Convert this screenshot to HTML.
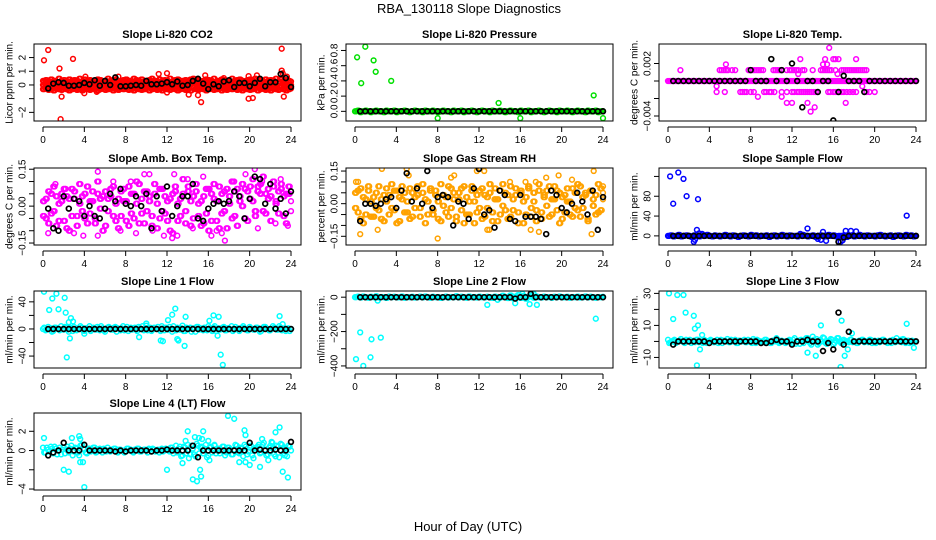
<!DOCTYPE html>
<html><head><meta charset="utf-8"><title>RBA_130118 Slope Diagnostics</title>
<style>
html,body{margin:0;padding:0;background:#fff;}
svg{display:block;font-family:"Liberation Sans",Arial,sans-serif;}
</style></head>
<body>
<svg id="chart" width="936" height="540" viewBox="0 0 936 540">
<text x="469" y="13" text-anchor="middle" font-size="13">RBA_130118  Slope Diagnostics</text>
<text x="468" y="531" text-anchor="middle" font-size="13">Hour of Day (UTC)</text>
</svg>
<script>
// ---- categories ----
const hq = [0,0.25,0.5,0.75,1,1.25,1.5,1.75,2,2.25,2.5,2.75,3,3.25,3.5,3.75,4,4.25,4.5,4.75,5,5.25,5.5,5.75,6,6.25,6.5,6.75,7,7.25,7.5,7.75,8,8.25,8.5,8.75,9,9.25,9.5,9.75,10,10.25,10.5,10.75,11,11.25,11.5,11.75,12,12.25,12.5,12.75,13,13.25,13.5,13.75,14,14.25,14.5,14.75,15,15.25,15.5,15.75,16,16.25,16.5,16.75,17,17.25,17.5,17.75,18,18.25,18.5,18.75,19,19.25,19.5,19.75,20,20.25,20.5,20.75,21,21.25,21.5,21.75,22,22.25,22.5,22.75,23,23.25,23.5,23.75,24];
const hq2 = [0.12,0.37,0.62,0.87,1.12,1.37,1.62,1.87,2.12,2.37,2.62,2.87,3.12,3.37,3.62,3.87,4.12,4.37,4.62,4.87,5.12,5.37,5.62,5.87,6.12,6.37,6.62,6.87,7.12,7.37,7.62,7.87,8.12,8.37,8.62,8.87,9.12,9.37,9.62,9.87,10.12,10.37,10.62,10.87,11.12,11.37,11.62,11.87,12.12,12.37,12.62,12.87,13.12,13.37,13.62,13.87,14.12,14.37,14.62,14.87,15.12,15.37,15.62,15.87,16.12,16.37,16.62,16.87,17.12,17.37,17.62,17.87,18.12,18.37,18.62,18.87,19.12,19.37,19.62,19.87,20.12,20.37,20.62,20.87,21.12,21.37,21.62,21.87,22.12,22.37,22.62,22.87,23.12,23.37,23.62,23.87];
const hb = [0.5,1,1.5,2,2.5,3,3.5,4,4.5,5,5.5,6,6.5,7,7.5,8,8.5,9,9.5,10,10.5,11,11.5,12,12.5,13,13.5,14,14.5,15,15.5,16,16.5,17,17.5,18,18.5,19,19.5,20,20.5,21,21.5,22,22.5,23,23.5,24];
const xTicks = [0,4,8,12,16,20,24];

// ---- P1 CO2 ----
const co2Hi = [0.3,0.35,0.25,0.4,0.3,0.2,0.45,0.3,0.35,0.25,0.4,0.3,0.35,0.3,0.45,0.25,0.4,0.3,0.35,0.2,0.3,0.4,0.35,0.25,0.3,0.45,0.3,0.35,0.4,0.25,0.3,0.35,0.4,0.3,0.25,0.45,0.35,0.3,0.4,0.25,0.3,0.35,0.45,0.3,0.25,0.4,0.3,0.35,0.3,0.45,0.25,0.35,0.4,0.3,0.3,0.35,0.25,0.4,0.45,0.3,0.35,0.25,0.3,0.4,0.35,0.3,0.45,0.25,0.3,0.4,0.35,0.3,0.25,0.45,0.3,0.35,0.4,0.3,0.25,0.35,0.4,0.3,0.45,0.3,0.35,0.25,0.4,0.3,0.35,0.3,0.45,0.25,0.4,0.3,0.35,0.3,0.25];
const co2Mid = [0,0.05,-0.05,0.1,0,-0.1,0.05,0,0.1,-0.05,0,0.05,-0.1,0,0.1,0.05,-0.05,0,0.1,-0.1,0.05,0,-0.05,0.1,0,0.05,-0.1,0,0.05,0.1,-0.05,0,0.1,-0.05,0,0.05,-0.1,0.1,0,0.05,-0.05,0,0.1,0.05,-0.1,0,0.05,0,-0.05,0.1,0,-0.1,0.05,0,0.1,-0.05,0,0.05,-0.1,0.1,0,0.05,-0.05,0,0.1,0,-0.1,0.05,0,0.1,-0.05,0,0.05,-0.1,0.1,0,0.05,-0.05,0,0.1,0.05,-0.1,0,0.05,0,-0.05,0.1,0,-0.1,0.05,0,0.1,-0.05,0,0.05,-0.1,0];
const co2Lo = [-0.3,-0.25,-0.35,-0.3,-0.4,-0.25,-0.3,-0.35,-0.2,-0.3,-0.4,-0.3,-0.25,-0.35,-0.3,-0.4,-0.2,-0.3,-0.35,-0.25,-0.3,-0.4,-0.3,-0.2,-0.35,-0.3,-0.25,-0.4,-0.3,-0.35,-0.25,-0.3,-0.2,-0.35,-0.3,-0.4,-0.25,-0.3,-0.35,-0.3,-0.2,-0.4,-0.3,-0.25,-0.35,-0.3,-0.4,-0.25,-0.3,-0.35,-0.2,-0.3,-0.4,-0.3,-0.25,-0.35,-0.3,-0.4,-0.2,-0.3,-0.35,-0.25,-0.3,-0.4,-0.3,-0.2,-0.35,-0.3,-0.25,-0.4,-0.3,-0.35,-0.25,-0.3,-0.2,-0.35,-0.3,-0.4,-0.25,-0.3,-0.35,-0.3,-0.2,-0.4,-0.3,-0.25,-0.35,-0.3,-0.4,-0.25,-0.3,-0.35,-0.2,-0.3,-0.4,-0.3,-0.25];
const co2OutX = [0.1,0.5,1.6,1.7,1.8,2.9,4,4.1,5.2,7.3,11.2,12,12,14.1,15,15.3,15.7,17.5,19.9,20.3,19.9,20.7,23.1,23.1,23.2,23.3,23.6,24];
const co2OutY = [1.8,2.55,1.2,-2.5,-0.85,1.9,-0.6,0.6,-0.5,0.6,0.8,0.85,-0.55,-0.7,-0.75,-1.25,0.7,0.5,-1.0,-0.95,0.65,0.7,2.65,1.05,0.85,-0.85,0.6,-0.25];
const co2Blk = [-0.25,0.1,0.2,0.15,-0.05,-0.05,0,0.15,0.05,0.35,-0.05,0.3,0,0.55,-0.1,-0.1,-0.05,0,-0.05,0.3,0.05,0.05,0.1,0.2,0.05,0.25,-0.05,0,0.3,0.45,0.1,-0.3,0.05,-0.1,0.25,0.35,-0.15,0.15,0.15,-0.1,0.15,0.45,-0.1,0.2,0.2,0.8,0.5,-0.15];

// ---- P2 Pressure ----
const presBand = [0,0.01,-0.01,0,0.01,0,-0.01,0,0.01,0,0,-0.01,0.01,0,0,0.01,-0.01,0,0,0.01,0,-0.01,0,0.01,0,0,-0.01,0.01,0,0,0.01,0,-0.01,0,0.01,0,0,-0.01,0.01,0,0,0.01,-0.01,0,0,0.01,0,-0.01,0,0.01,0,0,-0.01,0.01,0,0,0.01,0,-0.01,0,0.01,0,0,-0.01,0.01,0,0,0.01,-0.01,0,0,0.01,0,-0.01,0,0.01,0,0,-0.01,0.01,0,0,0.01,0,-0.01,0,0.01,0,0,-0.01,0.01,0,0,0.01,-0.01,0,0];
const presOutX = [0.2,0.6,1,1.8,2,3.5,8,13.9,16,23.1,24];
const presOutY = [0.71,0.37,0.85,0.67,0.52,0.4,-0.09,0.11,-0.09,0.21,-0.09];
const presBlk = [0,0,0,0,0,0,0,0,0,0,0,0,0,0,0,0,0,0,0,0,0,0,0,0,0,0,0,0,0,0,0,0,0,0,0,0,0,0,0,0,0,0,0,0,0,0,0,0];

// ---- P3 Li-820 Temp ----
const tempBand = [0,0,0,0,0,0,0,0,0,0,0,0,0,0,0,0,0,0,0,0,0,0,0,0,0,0,0,0,0,0,0,0,0,0,0,0,0,0,0,0,0,0,0,0,0,0,0,0,0,0,0,0,0,0,0,0,0,0,0,0,0,0,0,0,0,0,0,0,0,0,0,0,0,0,0,0,0,0,0,0,0,0,0,0,0,0,0,0,0,0,0,0,0,0,0,0,0];
const tempOutX = [1.2,5,5.2,5.4,5.6,5.8,6.2,6.5,7.8,8,8.2,8.4,8.6,8.8,9,9.2,10.2,10.4,10.6,10.8,11,11.5,11.8,12,12.2,12.4,12.6,13,13.2,14,14.8,15,15.2,15.4,15.6,15.8,16.2,16.8,17,17.2,17.4,17.6,17.8,18,18.2,18.4,18.6,18.8,19,19.2,
  4.7,5.5,7,7.2,7.4,7.6,8,8.3,9.3,9.5,9.8,10,10.3,11,11.5,12,12.2,12.5,12.7,12.9,13.1,13.3,13.5,13.7,13.9,14.1,14.3,15.5,15.7,16,16.2,16.4,16.6,16.8,17,17.3,17.6,17.9,18.2,19.2,19.5,20,
  5.6,12.8,15,15.2,15.6,16,16.2,16.5,18.2,15.4,12.6,16.4,8.7,11,11.5,12,13.5,13.8,14.2,17.2,4.7,18.8];
const tempOutY = [0.00125,0.00125,0.00125,0.00125,0.00125,0.00125,0.00125,0.00125,0.00125,0.00125,0.00125,0.00125,0.00125,0.00125,0.00125,0.00125,0.00125,0.00125,0.00125,0.00125,0.00125,0.00125,0.00125,0.00125,0.00125,0.00125,0.00125,0.00125,0.00125,0.00125,0.00125,0.00125,0.00125,0.00125,0.00125,0.00125,0.00125,0.00125,0.00125,0.00125,0.00125,0.00125,0.00125,0.00125,0.00125,0.00125,0.00125,0.00125,0.00125,0.00125,
  -0.00125,-0.00125,-0.00125,-0.00125,-0.00125,-0.00125,-0.00125,-0.00125,-0.00125,-0.00125,-0.00125,-0.00125,-0.00125,-0.00125,-0.00125,-0.00125,-0.00125,-0.00125,-0.00125,-0.00125,-0.00125,-0.00125,-0.00125,-0.00125,-0.00125,-0.00125,-0.00125,-0.00125,-0.00125,-0.00125,-0.00125,-0.00125,-0.00125,-0.00125,-0.00125,-0.00125,-0.00125,-0.00125,-0.00125,-0.00125,-0.00125,-0.00125,
  0.0019,0.0025,0.0019,0.0025,0.0038,0.0025,0.0025,0.0025,0.0025,0.0019,0.0008,0.0008,-0.0018,-0.0018,-0.0025,-0.0025,-0.0025,-0.0035,-0.003,-0.0025,-0.0006,-0.0006];
const tempBlk = [0,0,0,0,0,0,0,0,0,0,0,0,0,0,0,0.00125,0,0,0,0.0025,0,0.00125,0,0.002,0,-0.003,0,0,-0.00125,0,0,-0.0045,-0.00125,0.0006,0,0,0,-0.00125,0,0,0,0,0,0,0,0,0,0];

// ---- P4 Amb. Box Temp ----
const ambA = [0.02,-0.05,0.06,-0.03,0.08,-0.08,0.01,0.05,-0.06,0.04,-0.1,0.07,0.03,-0.04,0.09,-0.02,0.05,-0.07,0.02,0.06,-0.05,0.1,-0.01,0.04,-0.08,0.03,0.07,-0.04,0.01,-0.09,0.06,0.02,-0.06,0.08,-0.03,0.05,0.1,-0.07,0.03,0.06,-0.02,0.04,-0.08,0.09,0.01,-0.05,0.07,-0.03,0.02,-0.1,0.05,0.08,-0.06,0.03,0.11,-0.02,0.06,-0.08,0.04,0.09,-0.04,0.02,-0.07,0.07,-0.1,0.05,0.03,-0.06,0.08,-0.03,0.06,-0.09,0.04,0.1,-0.04,0.07,0.02,0.09,-0.05,0.06,0.03,0.11,-0.02,0.08,0.05,0.12,-0.03,0.07,0.04,0.1,0.01,0.06,0.09,-0.04,0.05,0.08,0.02];
const ambB = [-0.04,0.03,-0.07,0.05,-0.02,0.04,-0.06,0.02,0.07,-0.09,0.03,-0.04,0.06,-0.08,0.01,0.04,-0.05,0.08,-0.03,0.02,-0.07,0.05,0.03,-0.1,0.06,-0.02,0.04,0.08,-0.06,0.03,-0.04,0.07,0.02,-0.08,0.05,-0.05,0.01,0.09,-0.03,-0.07,0.06,0.02,-0.04,0.05,-0.09,0.07,-0.02,0.04,-0.06,0.03,-0.11,0.06,0.01,-0.04,0.05,-0.07,0.08,0.02,-0.05,0.06,0.01,-0.08,0.04,-0.03,0.07,-0.06,0.09,0.02,-0.09,0.05,-0.02,0.07,0.01,-0.05,0.06,-0.08,0.04,0,0.07,-0.06,0.08,0.02,-0.04,0.06,0.09,-0.02,0.05,0.03,-0.06,0.08,0.02,-0.03,0.07,0.04,-0.07,0.05,-0.02];
const ambOutX = [0.5,1.2,2.2,3,3.9,4.3,5.3,5.3,6.8,7.5,8.5,9,9.8,10.3,10.6,11.7,12.5,12.7,13,14,14.5,15.5,16.3,16.8,17.3,17.6,18.5,19.6,20.5,20.8,21.2,22.5,23,23.7];
const ambOutY = [-0.11,0.09,0.07,-0.11,-0.12,0.08,0.14,-0.12,0.1,-0.1,0.1,-0.11,0.13,0.13,-0.1,-0.12,-0.13,0.13,-0.12,0.11,-0.09,0.12,-0.12,-0.1,-0.11,-0.14,0.1,0.13,0.15,-0.09,0.1,-0.07,0.11,-0.08];
const ambBlk = [-0.01,-0.09,-0.1,0.04,-0.01,0.03,0.02,-0.04,0,-0.04,-0.05,-0.01,0.05,0.02,0.07,0.01,0,0.04,0,0.05,-0.09,0.04,-0.02,0.08,-0.04,0,0.04,0.04,0.09,-0.05,-0.06,-0.01,0.01,0.02,0.01,0.02,0.06,0.04,-0.05,0.03,0.12,0.11,0.01,0.09,-0.01,0.03,-0.03,0.06];

// ---- P5 Gas Stream RH ----
const rhA = [0.05,-0.04,0.07,-0.09,0.02,0.06,-0.06,0.03,-0.02,0.08,-0.07,0.04,0.01,-0.05,0.09,-0.03,0.06,-0.08,0.02,0.05,-0.04,0.07,-0.06,0.03,0.08,-0.02,0.05,-0.09,0.01,0.06,-0.05,0.04,-0.07,0.09,-0.01,0.03,-0.06,0.07,0.02,-0.08,0.05,-0.03,0.08,-0.05,0.01,0.06,-0.09,0.04,-0.02,0.07,-0.06,0.03,0.09,-0.04,0.02,-0.08,0.06,-0.01,0.05,-0.07,0.08,-0.03,0.04,-0.09,0.06,0.01,-0.05,0.07,-0.02,0.05,-0.08,0.09,-0.04,0.03,0.06,-0.06,0.02,0.08,-0.03,0.05,-0.07,0.04,0.01,-0.05,0.07,-0.02,0.09,-0.06,0.03,0.05,-0.08,0.06,-0.01,0.04,-0.04,0.07,0.02];
const rhB = [-0.02,0.06,-0.07,0.03,-0.05,0.08,0.01,-0.06,0.05,-0.03,0.02,-0.08,0.07,0.04,-0.02,0.06,-0.09,0.03,0.08,-0.04,0.01,-0.07,0.05,-0.02,0.04,-0.06,0.09,0.02,-0.05,0.07,-0.03,0.06,0.01,-0.08,0.04,-0.04,0.08,-0.02,0.05,-0.06,0.02,0.07,-0.09,0.03,-0.05,0.08,0.01,-0.04,0.06,-0.07,0.04,-0.02,0.05,-0.08,0.07,0.02,-0.05,0.09,-0.03,0.04,-0.06,0.02,0.07,-0.04,0.05,-0.09,0.03,0.08,-0.06,0.01,-0.03,0.06,-0.07,0.04,-0.01,0.08,-0.05,0.02,0.06,-0.09,0.03,-0.04,0.07,0.01,-0.06,0.05,-0.03,0.08,-0.02,0.04,-0.07,0.06,0.02,-0.05,0.09,-0.03,0.05];
const rhOutX = [0.1,0.3,0.5,2.2,2.6,5,5.2,8,8,9.3,9.6,11.8,12.5,12.8,13,15,16.5,17,17.5,17.8,18.5,19.7,21,22.9,23.1,24];
const rhOutY = [0.1,0.1,-0.14,-0.12,0.16,0.16,0.13,-0.16,-0.22,0.12,0.13,0.15,0.15,-0.12,-0.12,0.1,0.1,-0.12,0.1,-0.13,0.12,0.13,0.11,-0.14,0.15,0.08];
const rhBlk = [-0.08,0,0,-0.01,0,0.02,0.03,-0.02,0.06,0.14,0.01,0.07,0,0.15,-0.02,0.03,0.04,0.03,-0.1,0.01,0,-0.07,0.07,0.16,-0.05,-0.03,-0.11,0.06,0.04,-0.07,-0.08,0.04,-0.06,-0.06,-0.06,-0.07,-0.14,0.06,0.04,-0.02,-0.04,0,0.05,0.01,-0.05,0.06,-0.12,0.03];

// ---- P6 Sample Flow ----
const sfBand = [0,1,-1,0,2,-1,0,1,0,-2,1,0,-1,1,0,2,0,-1,1,0,-1,0,2,0,-1,1,0,-2,0,1,0,-1,2,0,1,-1,0,0,1,-2,0,1,-1,0,2,0,-1,1,0,0,-1,1,2,0,-1,0,1,-2,0,1,0,-1,2,0,1,-1,0,0,1,-2,0,1,-1,0,2,0,-1,1,0,0,-1,1,2,0,-1,0,1,-2,0,1,0,-1,2,0,1,-1,0];
const sfOutX = [0.2,0.5,1,1.5,1.8,2.9,2.8,3,2.5,2.6,3.3,13.5,12.8,15,14.8,15.3,14.5,16.7,16.9,17.2,17.7,18.2,23.1];
const sfOutY = [120,65,128,115,80,74,12,5,-12,-8,4,15,4,8,-8,-10,-6,-12,-9,10,10,9,41];
const sfBlk = [0,0,0,0,0,0,0,0,0,0,0,0,0,0,0,0,0,0,0,0,0,0,0,0,0,0,0,0,0,0,0,0,-12,-3,0,0,0,0,0,0,0,0,0,0,0,0,0,0];

// ---- P7 Line 1 Flow ----
const l1A = [0,-2,3,1,-3,2,0,4,-1,2,-4,1,3,-2,0,2,-3,1,4,-1,0,3,-2,1,-4,2,0,-1,3,1,-2,4,0,-3,2,1,-1,3,0,-2,5,1,-3,2,0,-1,4,-2,1,3,-4,0,2,-1,5,-3,1,2,0,-4,3,1,-2,0,4,-1,2,-3,1,0,3,-2,1,4,-1,0,-3,2,1,-2,3,0,-1,2,-4,1,3,0,-2,4,1,-1,2,0,-3,1,0];
const l1B = [2,-1,0,-4,2,1,-2,0,3,-1,2,-3,0,1,4,-2,1,0,-3,2,-1,1,4,-2,0,3,-1,2,-4,0,1,-2,3,0,-1,2,-3,1,4,0,-2,2,-1,0,3,-3,1,2,-1,0,4,-2,0,1,-3,2,0,-4,1,3,-1,0,2,-2,1,-3,4,0,-1,2,-2,1,0,-3,3,1,-1,4,0,-2,1,-1,2,0,-3,3,1,-2,0,2,-1,4,-2,1,0,-3,1];
const l1OutX = [0.1,0.6,0.9,1.3,1.5,2.1,2.2,2.3,2.5,2.6,2.7,2.9,4,9.3,10,11.4,11.6,12.1,12.5,12.8,13,13.1,13.7,13.8,16.1,16.5,16.9,17,17.2,17.4,22.9,23.2];
const l1OutY = [55,28,45,52,29,46,24,-42,10,-14,16,11,-7,-12,8,-17,-18,13,21,30,-15,-17,-25,18,12,20,-10,18,-38,-53,19,7];
const l1Blk = [0,0,0,0,0,0,0,0,0,0,0,0,0,0,0,0,0,0,0,0,0,0,0,0,0,0,0,0,0,0,0,0,0,0,0,0,0,0,0,0,0,0,0,0,0,0,0,0];

// ---- P8 Line 2 Flow ----
const l2Band = [0,3,-2,4,0,-3,2,0,5,-2,1,0,-4,3,0,2,-1,0,4,-3,1,0,2,-2,0,3,-1,4,0,-3,2,0,1,-4,0,3,-2,1,0,5,-1,2,0,-3,4,0,1,-2,3,0,-1,2,0,-4,3,1,-2,8,0,-5,10,-6,3,12,-4,6,-8,2,10,-3,4,0,-2,3,0,1,-3,2,0,4,-1,0,2,-3,1,0,3,-2,0,4,-1,2,0,-3,1,0,2];
const l2OutX = [0.1,0.5,0.8,1.5,1.6,2.5,2.2,12.8,13.8,15.5,16.2,16.9,17.6,17.3,23.3];
const l2OutY = [-360,-205,-400,-350,-245,-235,-20,-45,-15,-35,20,-40,-45,18,-125];
const l2Blk = [0,0,0,0,0,0,0,0,0,0,0,0,0,0,0,0,0,0,0,0,0,0,0,0,0,0,0,0,0,0,-8,0,0,20,0,0,0,0,0,0,0,0,0,0,0,0,0,0];

// ---- P9 Line 3 Flow ----
const l3A = [1,-0.5,0.5,-1,0,1.5,-0.5,1,0,-1,0.5,1,-0.5,0,1,-1,0.5,0,-0.5,1,0,-1,0.5,1.5,-0.5,0,1,-1,0.5,0,-0.5,1,0,1.5,-1,0.5,0,-0.5,1,0,-1,0.5,2,-1,0.5,0,-0.5,1,-1,2,0,-1.5,0.5,1,2,-1,3,0,-2,1,2.5,-1,0,1.5,-2,0.5,2,-1,1,0,-0.5,1,0,-1,0.5,1,-0.5,0,1,-1,0.5,0,-0.5,1,0,-1,0.5,1,-0.5,0,1,1.5,-1,0.5,0,-0.5,0];
const l3B = [-1,0,1,-0.5,0.5,0,-1,0.5,1,0,-0.5,1,0,-1,0.5,0,1,-0.5,0,-1,1,0.5,0,-0.5,1,0,-1,0.5,0,1,-0.5,0,-1,0.5,1,0,-0.5,1,0,-1,0.5,0,1,-0.5,0,-1,0.5,0,1,-1.5,0.5,1,-1,2,0,-2,1,1.5,-1,0,2,-1.5,0.5,1,-1,2,0,-1,0.5,0,1,-0.5,0,-1,0.5,1,0,-0.5,1,0,-1,0.5,0,1,-0.5,0,-1,0.5,2,0,-0.5,1,0,-1,0.5,0,1];
const l3OutX = [0.1,0.5,0.9,1.5,1.7,2.5,2.6,2.9,2.8,3.1,3.3,13.5,14.3,14.8,16.7,16.8,17.1,17.4,17.8,23.1,23.8];
const l3OutY = [30,14,29,29,18,16,8,10,-15,-5,4,-7,-9,10,-16,13,-9,-5,5,11,-4];
const l3Blk = [-2,0,0,0,0,0,0,-1,0,0,0,0,0,0,0,0,0,-1,-1,0,1,0,0,-2,0,0,1,0,0,-6,-1,-5,18,-2,6,0,0,0,0,0,0,0,0,0,0,0,0,0];

// ---- P10 Line 4 (LT) Flow ----
const l4A = [0.3,-0.2,0.1,0.4,-0.3,0.2,0,-0.4,0.3,0.1,-0.2,0.5,-0.1,0.2,-0.5,0.6,0.1,-0.3,0.2,0,0.3,-0.1,0.2,-0.2,0.1,0.3,-0.1,0,0.2,-0.2,0.1,0,-0.1,0.2,0.1,-0.2,0,0.2,-0.1,0.1,0,0.2,-0.1,0.1,0,-0.2,0.2,0,0.1,-0.1,0.3,0,-0.2,0.4,-0.5,0.3,0.6,-0.4,0.2,-0.6,0.5,0.3,-0.3,0.6,-0.5,0.4,0.1,-0.3,0.2,0,0.4,-0.2,0.3,-0.4,0.1,0.5,-0.3,0.2,0.6,-0.4,0.3,-0.5,0.2,0.4,-0.3,0.6,0.1,-0.4,0.5,0.2,-0.6,0.4,0.7,-0.3,0.2,0.5,0];
const l4B = [-0.2,0.3,-0.1,0.2,0.4,-0.4,0.3,0.1,-0.3,0.4,0.2,-0.5,0.3,-0.2,0.5,-1.2,-0.2,0.2,-0.1,0.3,-0.2,0.1,0,0.2,-0.1,0,0.1,0.2,-0.1,0.1,0,-0.2,0.2,0,-0.1,0.1,0.2,-0.1,0,0.1,-0.2,0.1,0.2,-0.1,0.1,0,-0.1,0.2,0,0.3,-0.3,0.5,0.2,-0.6,0.4,-0.3,-0.8,0.5,-0.4,0.7,-0.3,0.4,0.2,-0.7,0.3,-0.2,0.5,0,-0.3,0.4,-0.5,0.3,0.1,-0.4,0.6,-0.2,0.3,-0.6,0.4,-0.1,0.5,-0.8,0.3,0.6,-0.2,0.8,-0.5,0.3,0.9,-0.4,0.5,-0.7,0.6,0.3,-0.6,0.4,0];
const l4OutX = [0.1,2,2.5,3.5,3.6,3.6,4,12,13.5,13.8,14,14.5,14.7,14.9,15.1,15.2,15.3,15.4,15.5,16,16.1,17.9,18.5,19,19.5,19.6,19.6,20,21,21.2,21.8,22.2,22.5,22.9,23.2,23.7,23.4,2.8,16.6];
const l4OutY = [1.3,-2,-2.2,1.5,1.2,-1.2,-3.8,-2,-1.3,1,2,-3,1.4,-3.2,1.3,-2,-2.7,1.2,2,1,-1,3.6,3.3,-1.2,2.1,1.6,-1.2,-1.5,-1.7,1.2,-1,0.8,1.9,2.4,-2.2,-2.8,-0.5,1.3,0.6];
const l4Blk = [-0.5,-0.2,0,0.8,0,0,0,0.6,0,0,0,0,0,-0.1,0,-0.1,0,0,0,0,-0.1,0,0,0.1,0,0,0,0,0.5,-0.7,0,0,0,0,0,0,0,0,0,0.8,0,0.1,0,0,0.1,0,0,0.9];

// ---- panel y-axis ticks ----
const t1 = [-2,-1,0,1,2], t1L = ["\u22122","","0","1","2"];
const t2 = [0,0.2,0.4,0.6,0.8], t2L = ["0.0","0.2","0.4","0.6","0.8"];
const t3 = [-0.004,-0.002,0,0.002], t3L = ["\u22120.004","","","0.002"];
const t4 = [-0.15,-0.1,-0.05,0,0.05,0.1,0.15], t4L = ["\u22120.15","","","0.00","","","0.15"];
const t5 = [-0.15,-0.1,-0.05,0,0.05,0.1,0.15], t5L = ["\u22120.15","","","0.00","","","0.15"];
const t6 = [0,40,80,120], t6L = ["0","40","80",""];
const t7 = [-40,-20,0,20,40], t7L = ["\u221240","","0","","40"];
const t8 = [-400,-300,-200,-100,0], t8L = ["\u2212400","","\u2212200","","0"];
const t9 = [-10,0,10,20,30], t9L = ["\u221210","","10","","30"];
const t10 = [-4,-2,0,2], t10L = ["\u22124","","0","2"];

const panels = [
 {id:"co2",title:"Slope Li-820 CO2",ylab:"Licor ppm per min.",col:0,row:0,ymin:-2.63,ymax:2.99,ticks:t1,labels:t1L,color:"#ff0000",
  series:[[hq,co2Hi],[hq,co2Lo],[hq,co2Mid],[hq2,co2Hi],[hq2,co2Lo],[hq2,co2Mid],[co2OutX,co2OutY]],blk:co2Blk},
 {id:"pressure",title:"Slope Li-820 Pressure",ylab:"kPa per min.",col:1,row:0,ymin:-0.127,ymax:0.885,ticks:t2,labels:t2L,color:"#00e000",
  series:[[hq,presBand],[hq2,presBand],[presOutX,presOutY]],blk:presBlk},
 {id:"li820-temp",title:"Slope Li-820 Temp.",ylab:"degrees C per min.",col:2,row:0,ymin:-0.00457,ymax:0.00423,ticks:t3,labels:t3L,color:"#ff00ff",
  series:[[hq,tempBand],[hq2,tempBand],[tempOutX,tempOutY]],blk:tempBlk},
 {id:"amb-box-temp",title:"Slope Amb. Box Temp.",ylab:"degrees C per min.",col:0,row:1,ymin:-0.158,ymax:0.155,ticks:t4,labels:t4L,color:"#ff00ff",
  series:[[hq,ambA],[hq2,ambB],[hq2,ambA],[hq,ambB],[ambOutX,ambOutY]],blk:ambBlk},
 {id:"gas-stream-rh",title:"Slope Gas Stream RH",ylab:"percent per min.",col:1,row:1,ymin:-0.19,ymax:0.164,ticks:t5,labels:t5L,color:"#ffa200",
  series:[[hq,rhA],[hq2,rhB],[hq2,rhA],[hq,rhB],[rhOutX,rhOutY]],blk:rhBlk},
 {id:"sample-flow",title:"Slope Sample Flow",ylab:"ml/min per min.",col:2,row:1,ymin:-18.4,ymax:137,ticks:t6,labels:t6L,color:"#0000ff",
  series:[[hq,sfBand],[hq2,sfBand],[sfOutX,sfOutY]],blk:sfBlk},
 {id:"line1-flow",title:"Slope Line 1 Flow",ylab:"ml/min per min.",col:0,row:2,ymin:-57.6,ymax:56,ticks:t7,labels:t7L,color:"#00ffff",
  series:[[hq,l1A],[hq2,l1B],[l1OutX,l1OutY]],blk:l1Blk},
 {id:"line2-flow",title:"Slope Line 2 Flow",ylab:"ml/min per min.",col:1,row:2,ymin:-412,ymax:36,ticks:t8,labels:t8L,color:"#00ffff",
  series:[[hq,l2Band],[hq2,l2Band],[l2OutX,l2OutY]],blk:l2Blk},
 {id:"line3-flow",title:"Slope Line 3 Flow",ylab:"ml/min per min.",col:2,row:2,ymin:-16.6,ymax:31.5,ticks:t9,labels:t9L,color:"#00ffff",
  series:[[hq,l3A],[hq2,l3B],[l3OutX,l3OutY]],blk:l3Blk},
 {id:"line4-flow",title:"Slope Line 4 (LT) Flow",ylab:"ml/min per min.",col:0,row:3,ymin:-4.1,ymax:3.9,ticks:t10,labels:t10L,color:"#00ffff",
  series:[[hq,l4A],[hq2,l4B],[l4OutX,l4OutY]],blk:l4Blk}
];

const NS = "http://www.w3.org/2000/svg";
const svg = document.getElementById("chart");
const colLeft = [34,346,659], rowTop = [44,168,291,413], PW = 267, PH = 77;

function mk(tag, attrs, parent){
  const e = document.createElementNS(NS, tag);
  for (const k in attrs) e.setAttribute(k, attrs[k]);
  parent.appendChild(e);
  return e;
}

panels.forEach(p => {
  const L = colLeft[p.col], T = rowTop[p.row];
  const xs = h => L + 9 + h * (248 / 24);
  const ys = v => T + (p.ymax - v) / (p.ymax - p.ymin) * PH;
  const g = mk("g", {}, svg);
  
  

  const t = mk("text", {x: L + PW/2, y: T - 6, "text-anchor": "middle", "font-size": "11", "font-weight": "bold"}, g);
  t.textContent = p.title;
  
  

  const yl = mk("text", {x: L - 24, y: T + PH/2, "text-anchor": "middle", "dominant-baseline": "central", "font-size": "10", transform: `rotate(-90 ${L-24} ${T+PH/2})`}, g);
  yl.textContent = p.ylab;
  
  

  const clipId = "clip-" + p.id;
  const cp = mk("clipPath", {id: clipId}, g);
  mk("rect", {x: L, y: T, width: PW, height: PH}, cp);
  const pts = mk("g", {"clip-path": `url(#${clipId})`}, g);
  
  
  p.series.forEach(s => {
    const xsArr = s[0], ysArr = s[1];
    const n = Math.min(xsArr.length, ysArr.length);
    for (let i = 0; i < n; i++) {
      const c = mk("circle", {cx: xs(xsArr[i]).toFixed(1), cy: ys(ysArr[i]).toFixed(1), r: 2.4, fill: "none", stroke: p.color, "stroke-width": 1.5}, pts);
      
      
    }
  });
  const nb = Math.min(hb.length, p.blk.length);
  for (let i = 0; i < nb; i++) {
    const c = mk("circle", {cx: xs(hb[i]).toFixed(1), cy: ys(p.blk[i]).toFixed(1), r: 2.4, fill: "none", stroke: "#000", "stroke-width": 1.7}, pts);
    
    
  }

  const fr = mk("rect", {x: L, y: T, width: PW, height: PH, fill: "none", stroke: "#000", "stroke-width": 1}, g);
  
  

  const xa = mk("g", {}, g);
  
  
  const ay = T + PH + 6;
  mk("line", {x1: xs(xTicks[0]), x2: xs(xTicks[xTicks.length-1]), y1: ay, y2: ay, stroke: "#000"}, xa);
  xTicks.forEach(v => {
    mk("line", {x1: xs(v), x2: xs(v), y1: ay, y2: ay + 5, stroke: "#000"}, xa);
    const tl = mk("text", {x: xs(v), y: ay + 16, "text-anchor": "middle", "font-size": "10"}, xa);
    tl.textContent = String(v);
    
    
  });

  const ya = mk("g", {}, g);
  
  
  p.ticks.forEach((v, i) => {
    const y = ys(v);
    mk("line", {x1: L - 5, x2: L, y1: y, y2: y, stroke: "#000"}, ya);
    if (p.labels[i]) {
      const tl = mk("text", {x: L - 11, y: y, "text-anchor": "middle", "dominant-baseline": "central", "font-size": "10", transform: `rotate(-90 ${L-11} ${y})`}, ya);
      tl.textContent = p.labels[i];
      
      
    }
  });
});
</script>
</body></html>
